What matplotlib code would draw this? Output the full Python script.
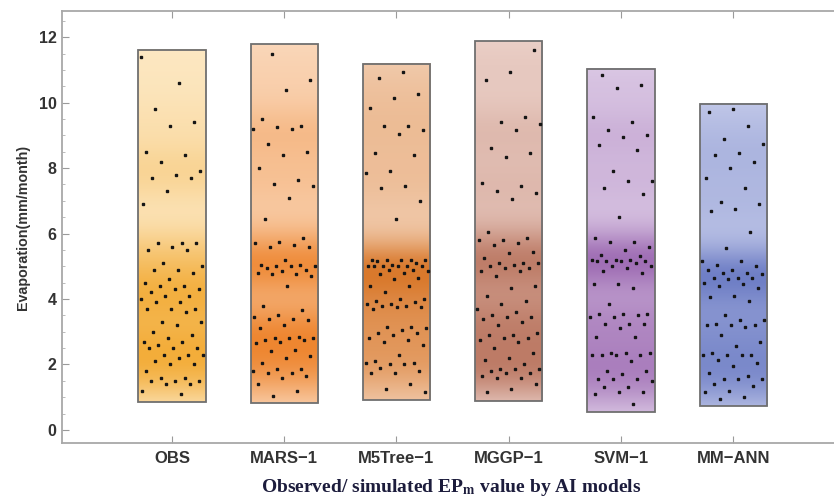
import matplotlib.pyplot as plt
import numpy as np
from matplotlib.patches import Rectangle
from matplotlib.colors import to_rgb

plt.rcParams['mathtext.fontset'] = 'stix'

# ---- data ----
models = ['OBS', 'MARS\u22121', 'M5Tree\u22121', 'MGGP\u22121', 'SVM\u22121', 'MM\u2212ANN']

obs = [11.4, 10.6, 9.8, 9.4, 9.3, 8.5, 8.4, 8.2, 7.9, 7.8, 7.7, 7.7, 7.3, 6.9,
       5.7, 5.7, 5.7, 5.6, 5.5, 5.5, 5.1, 5.0, 4.9, 4.9, 4.8, 4.6, 4.5, 4.4, 4.4, 4.3,
       4.3, 4.2, 4.1, 4.1, 4.0, 3.9, 3.9, 3.7, 3.7, 3.7, 3.6, 3.3, 3.3, 3.2, 3.0, 2.9,
       2.8, 2.7, 2.7, 2.6, 2.5, 2.5, 2.5, 2.3, 2.3, 2.3, 2.2, 2.1, 2.0, 2.0, 1.8, 1.6,
       1.6, 1.5, 1.5, 1.5, 1.4, 1.4, 1.2, 1.1]
mars = [11.5, 10.7, 10.4, 9.5, 9.3, 9.25, 9.2, 9.2, 8.75, 8.5, 8.4, 8.0, 7.65, 7.5, 7.45,
        7.1, 6.45, 5.85, 5.75, 5.7, 5.65, 5.6, 5.6,
        5.2, 5.05, 5.05, 5.0, 5.0, 5.0, 4.95, 4.9, 4.85, 4.8, 4.75, 4.75, 4.7, 4.4, 3.8,
        3.65, 3.5, 3.45, 3.4, 3.4, 3.35, 3.2, 3.1, 2.85, 2.8, 2.8, 2.8, 2.75, 2.75, 2.7,
        2.65, 2.45, 2.4, 2.25, 2.2, 2.05, 1.85, 1.85, 1.8, 1.75, 1.75, 1.65, 1.6, 1.4,
        1.2, 1.05]
m5tree = [10.95, 10.75, 10.25, 10.15, 9.85, 9.3, 9.3, 9.15, 9.05, 8.45, 8.4, 7.9, 7.85,
          7.45, 7.4, 7.0, 6.45,
          5.2, 5.2, 5.2, 5.2, 5.2, 5.15, 5.1, 5.05, 5.0, 5.0, 5.0, 5.0, 5.0, 5.0, 4.9,
          4.9, 4.85, 4.8, 4.75, 4.65, 4.6, 4.4, 4.4, 4.2, 4.0, 4.0, 3.95, 3.9, 3.85,
          3.85, 3.8, 3.8, 3.75, 3.75, 3.7, 3.15, 3.15, 3.1, 3.05, 2.95, 2.95, 2.9, 2.8,
          2.75, 2.7, 2.6, 2.3, 2.1, 2.05, 2.0, 2.05, 2.0, 1.9, 1.8, 1.75, 1.75, 1.4,
          1.25, 1.15]
mggp = [11.6, 10.95, 10.7, 9.55, 9.4, 9.35, 9.15, 8.6, 8.45, 8.35, 7.55, 7.45, 7.3, 7.25,
        7.05, 6.05,
        5.85, 5.8, 5.8, 5.7, 5.65, 5.45, 5.4, 5.25, 5.1, 5.1, 5.1, 5.05, 5.0, 4.95, 4.95,
        4.85, 4.85, 4.7, 4.4, 4.35, 4.1, 3.95, 3.85, 3.7, 3.6, 3.5, 3.45, 3.45, 3.4, 3.3,
        3.2, 2.95, 2.9, 2.9, 2.8, 2.8, 2.75, 2.7, 2.5, 2.35, 2.2, 2.15, 2.0, 1.85, 1.85,
        1.85, 1.8, 1.75, 1.75, 1.65, 1.6, 1.6, 1.4, 1.25, 1.15]
svm = [10.85, 10.55, 10.45, 9.55, 9.4, 9.15, 9.0, 8.95, 8.7, 8.55, 7.9, 7.6, 7.6, 7.4,
       7.2, 6.5,
       5.85, 5.75, 5.75, 5.6, 5.5, 5.35, 5.3, 5.2, 5.2, 5.2, 5.15, 5.15, 5.15, 5.15, 5.1,
       5.0, 5.0, 4.95, 4.85, 4.8, 4.45, 4.45, 4.35, 3.85, 3.55, 3.55, 3.55, 3.5, 3.45,
       3.45, 3.25, 3.25, 3.25, 3.1, 2.85, 2.85, 2.35, 2.35, 2.35, 2.3, 2.3, 2.3, 2.3, 2.1,
       1.8, 1.8, 1.7, 1.55, 1.55, 1.55, 1.5, 1.3, 1.3, 1.15, 1.15, 1.1, 0.8]
mmann = [9.8, 9.7, 9.3, 8.9, 8.75, 8.45, 8.4, 8.2, 8.0, 7.7, 7.4, 6.95, 6.9, 6.75, 6.7,
         6.05, 5.55,
         5.15, 5.15, 5.05, 5.0, 4.9, 4.9, 4.8, 4.8, 4.75, 4.65, 4.65, 4.65, 4.6, 4.5, 4.45,
         4.4, 4.35, 4.1, 4.05, 3.95, 3.5, 3.35, 3.35, 3.25, 3.2, 3.2, 3.2, 3.15, 2.9, 2.7,
         2.55, 2.35, 2.3, 2.3, 2.3, 2.3, 2.15, 2.05, 1.95, 1.75, 1.65, 1.55, 1.55, 1.55,
         1.4, 1.35, 1.2, 1.15, 1.0, 0.95]

# extent of each distribution rectangle (min, max)
range_low = [0.84, 0.83, 0.90, 0.87, 0.54, 0.74]
range_high = [11.62, 11.79, 11.19, 11.87, 11.04, 9.97]

series = [obs, mars, m5tree, mggp, svm, mmann]

# light (low density) and dark (high density) colours
light_cols = ['#fdeccc', '#fbdcc2', '#f3d2b8', '#eed6cf', '#e2d3ea', '#cfd4ee']
dark_cols = ['#f3ad3a', '#ee8630', '#d9792c', '#bd7b66', '#a06fb5', '#6f7fc6']

width = 0.6

fig = plt.figure(figsize=(8.34, 5.0), dpi=100)
ax = fig.add_axes([0.0743, 0.114, 0.93, 0.864])

for i, vals in enumerate(series):
    v = np.array(vals)
    lo, hi = range_low[i], range_high[i]
    yy = np.linspace(lo, hi, 400)
    dens = np.exp(-0.5 * ((yy[:, None] - v[None, :]) / 0.6) ** 2).sum(axis=1)
    dens = dens / dens.max()
    c0 = np.array(to_rgb(light_cols[i]))
    c1 = np.array(to_rgb(dark_cols[i]))
    img = c0[None, :] * (1 - dens[:, None]) + c1[None, :] * dens[:, None]
    img = np.repeat(img[:, None, :], 2, axis=1)
    ax.imshow(img, extent=[i - width / 2, i + width / 2, lo, hi], origin='lower',
              aspect='auto', interpolation='bilinear', zorder=1)
    ax.add_patch(Rectangle((i - width / 2, lo), width, hi - lo, fill=False,
                           edgecolor='#6f6f6f', lw=1.3, zorder=2))
    # spread points across the rectangle
    k = np.arange(len(v))
    jit = ((k * 0.6180339887 + 0.3 * i) % 1.0 - 0.5) * (width - 0.04)
    ax.plot(i + jit, v, linestyle='None', marker='s', markersize=2.1,
            color='#151515', zorder=3)

ax.set_xlim(-0.98, 5.93)
ax.set_ylim(-0.4, 12.8)

ax.set_xticks(range(len(models)))
ax.set_xticklabels(models, fontsize=12, fontweight='bold', color='#333333',
                   family=['Liberation Sans', 'DejaVu Sans'])
ax.set_yticks(range(0, 13, 2))
ax.set_yticks(np.arange(0, 12.9, 0.5), minor=True)
ax.set_yticklabels([str(t) for t in range(0, 13, 2)], fontsize=11.5,
                   fontweight='bold', color='#333333', family='Liberation Sans')
ax.tick_params(axis='y', which='major', direction='in', length=5, color='#9a9a9a', pad=4)
ax.tick_params(axis='y', which='minor', direction='in', length=2.5, color='#b0b0b0')
ax.tick_params(axis='x', which='both', direction='in', length=5, color='#9a9a9a',
               top=True, pad=6)

for s in ax.spines.values():
    s.set_color('#a8a8a8')
    s.set_linewidth(1.3)

ax.set_ylabel('Evaporation(mm/month)', fontsize=10.3, fontweight='bold',
              color='#333333', family='Liberation Sans', labelpad=6)
fig.text(0.541, 0.026, r'Observed/ simulated EP$_{\mathbf{m}}$ value by AI models',
         ha='center', va='center', fontsize=14, fontweight='bold',
         family='Liberation Serif', color='#1c1c3c')

fig.savefig('out.png', dpi=100)
